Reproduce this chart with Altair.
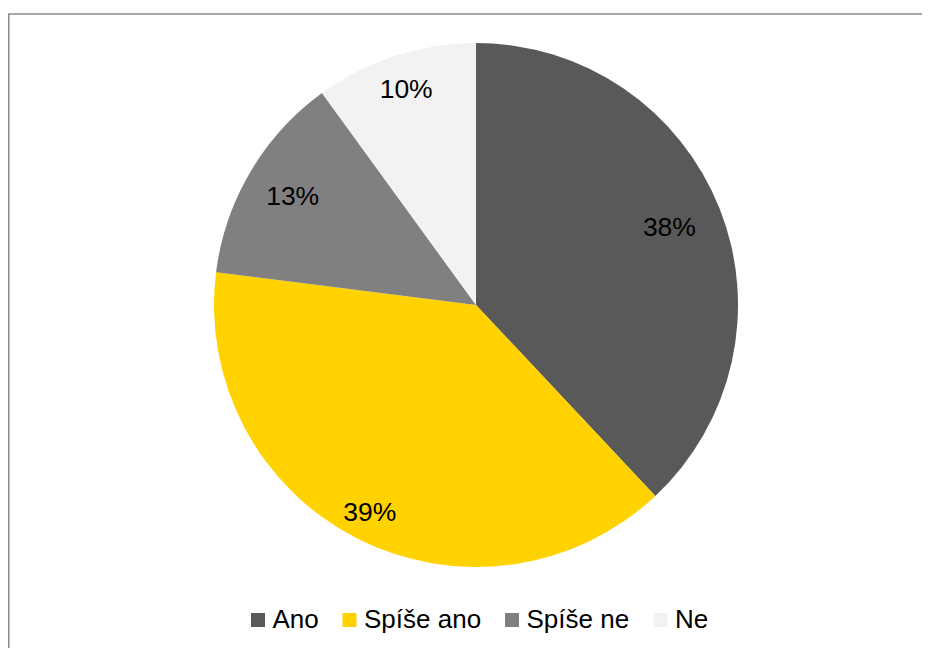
import altair as alt
import pandas as pd

categories = ["Ano", "Spíše ano", "Spíše ne", "Ne"]
values = [38, 39, 13, 10]
labels = ["38%", "39%", "13%", "10%"]
colors = ["#595959", "#FFD200", "#808080", "#F2F2F2"]

df = pd.DataFrame({"cat": categories, "val": values, "lab": labels, "ord": list(range(len(categories)))})

CX, CY, R = 468, 297, 262
label_r = {"Ano": 208, "Spíše ano": 234, "Spíše ne": 213, "Ne": 226}
FONT = "Liberation Sans"
FS = 26.5

base = alt.Chart(df)

color = alt.Color(
    "cat:N",
    scale=alt.Scale(domain=categories, range=colors),
    sort=categories,
    legend=alt.Legend(
        title=None,
        orient="none",
        legendX=237,
        legendY=599,
        direction="horizontal",
        symbolType="square",
        symbolSize=196,
        symbolStrokeWidth=0,
        symbolOpacity=1,
        labelFont=FONT,
        labelFontSize=26,
        labelColor="#000000",
        labelOffset=1.5,
        columnPadding=17.5,
        padding=0,
        labelLimit=300,
    ),
)

pie = base.mark_arc(radius=R, stroke=None).encode(
    theta=alt.Theta("val:Q", stack=True, scale=alt.Scale(domain=[0, 100])),
    order=alt.Order("ord:Q"),
    color=color,
    x=alt.value(CX),
    y=alt.value(CY),
)

txt_base = base.transform_window(
    cum="sum(val)", sort=[alt.SortField("ord")], frame=[None, 0]
).transform_calculate(mid="datum.cum - datum.val / 2")

text_layers = []
for c in categories:
    t = txt_base.transform_filter(alt.datum.cat == c).mark_text(
        radius=label_r[c], font=FONT, fontSize=FS, color="#000000",
        align="center", baseline="middle"
    ).encode(
        theta=alt.Theta("mid:Q", stack=False, scale=alt.Scale(domain=[0, 100])),
        text="lab:N",
        x=alt.value(CX),
        y=alt.value(CY),
    )
    text_layers.append(t)

border = base.transform_filter(alt.datum.ord == 0).mark_rect(
    fill=None, stroke="#8a8a8a", strokeWidth=1.5
).encode(
    x=alt.value(0.75), x2=alt.value(1200), y=alt.value(6), y2=alt.value(1200)
)

chart = alt.layer(border, pie, *text_layers).properties(
    width=914, height=640, padding=0, autosize=alt.AutoSizeParams(type="none"),
    background="#ffffff",
).configure_view(stroke=None)

chart.save("out.html", embed_options={"renderer": "svg", "actions": False})
